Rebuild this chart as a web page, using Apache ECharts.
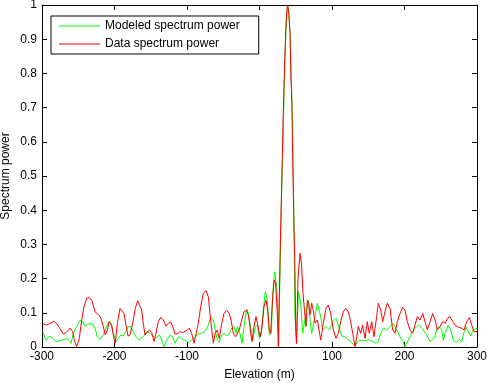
<!DOCTYPE html>
<html>
<head>
<meta charset="utf-8">
<script src="https://cdn.jsdelivr.net/npm/echarts@6/dist/echarts.min.js"></script>
<style>
  html, body { margin: 0; padding: 0; background: #fff; }
  #container { width: 487px; height: 383px; }
</style>
</head>
<body>
<div id="container"></div>
<script>
// elevation (m) and normalised power
var dataElev = [-299, -293.5, -289, -283.4, -279, -274.2, -270.6, -266.9, -261.4, -257.7, -255.5, -252.1, -248.6, -245.2, -242.1, -238.4, -234.8, -231, -226.9, -222.3, -218.6, -215.5, -212.7, -209.9, -207.2, -203.9, -200.7, -198.9, -196.1, -192.4, -189.7, -186.9, -184.1, -181.4, -178.6, -174.9, -171.3, -168, -165.8, -162.5, -160.3, -157.9, -155.6, -152, -148.7, -145.5, -142.8, -139.6, -136.3, -132.7, -129, -125.8, -122.5, -119.7, -116.6, -113.4, -109.7, -106, -101.4, -96.8, -93.5, -90.3, -87.6, -84.4, -81.1, -77.5, -73.8, -70.6, -68.3, -65.9, -63.7, -61, -58.2, -55.5, -52.1, -49, -45.2, -41.6, -38.9, -36.1, -33.1, -30.4, -27.9, -24.6, -21.4, -17.7, -14.9, -12.1, -10.3, -7.6, -4.8, -2, 0.7, 3, 6.2, 9, 11.3, 13.5, 15.4, 18.2, 20.4, 22.3, 24.6, 26, 28.3, 30.1, 31.4, 32.8, 34.8, 36.1, 37.5, 38.9, 40.3, 42.1, 43.4, 44.8, 45.8, 47.2, 48.6, 50, 51, 53.1, 55.9, 58, 59.9, 62.8, 64.2, 66, 67.9, 69.7, 72, 74.2, 76.6, 79.8, 81.1, 84.4, 88, 91.7, 94.9, 98.2, 101.8, 105.5, 108.7, 112, 115.6, 118.9, 122.5, 125.8, 128.6, 131.7, 134.1, 136.3, 139.6, 142.3, 145.5, 148.7, 151.4, 154.8, 157.9, 161.6, 163.9, 167.2, 169.9, 173.1, 176.3, 180, 183.7, 186.9, 190.1, 193.8, 197.5, 200.7, 203.9, 207.6, 211.3, 214.5, 217.7, 221.4, 225.1, 228.3, 231.5, 235.2, 238.9, 242.1, 245.3, 249, 252.7, 256.3, 259.1, 262.8, 266.5, 269.7, 274.2, 278.9, 282.1, 285.8, 289.4, 292.7, 295.9, 300];
var dataPower = [0.069, 0.064, 0.069, 0.075, 0.067, 0.05, 0.038, 0.042, 0.055, 0.045, 0.02, 0.001, 0.025, 0.079, 0.118, 0.142, 0.145, 0.135, 0.103, 0.095, 0.084, 0.06, 0.035, 0.05, 0.074, 0.064, 0.025, 0.011, 0.069, 0.113, 0.116, 0.098, 0.064, 0.032, 0.035, 0.069, 0.113, 0.135, 0.137, 0.108, 0.069, 0.035, 0.04, 0.05, 0.042, 0.016, 0.04, 0.074, 0.087, 0.079, 0.061, 0.069, 0.074, 0.06, 0.038, 0.038, 0.045, 0.042, 0.047, 0.055, 0.04, 0.011, 0.016, 0.069, 0.118, 0.157, 0.165, 0.147, 0.098, 0.05, 0.011, 0.04, 0.05, 0.025, 0.069, 0.098, 0.108, 0.098, 0.075, 0.04, 0.03, 0.03, 0.05, 0.079, 0.103, 0.108, 0.089, 0.04, 0.016, 0.06, 0.089, 0.06, 0.03, 0.05, 0.118, 0.137, 0.108, 0.05, 0.04, 0.147, 0.196, 0.186, 0.098, 0.001, 0.26, 0.43, 0.547, 0.68, 0.84, 0.918, 0.98, 1.0, 0.98, 0.92, 0.79, 0.70, 0.547, 0.38, 0.26, 0.05, 0.01, 0.2, 0.274, 0.24, 0.16, 0.09, 0.06, 0.137, 0.128, 0.095, 0.128, 0.108, 0.07, 0.079, 0.074, 0.02, 0.069, 0.113, 0.123, 0.098, 0.05, 0.025, 0.04, 0.074, 0.103, 0.113, 0.103, 0.074, 0.04, 0.001, 0.03, 0.06, 0.04, 0.064, 0.025, 0.074, 0.04, 0.074, 0.03, 0.089, 0.128, 0.108, 0.074, 0.103, 0.128, 0.113, 0.05, 0.04, 0.074, 0.098, 0.116, 0.108, 0.074, 0.05, 0.04, 0.064, 0.089, 0.079, 0.098, 0.074, 0.05, 0.074, 0.098, 0.079, 0.05, 0.06, 0.074, 0.069, 0.084, 0.089, 0.074, 0.064, 0.058, 0.055, 0.05, 0.074, 0.086, 0.064, 0.045, 0.045];

var modelElev = [-299, -294.5, -289.9, -285.2, -280.7, -276.1, -271.5, -266, -262.3, -260, -256.8, -252.1, -247.6, -243.9, -240.7, -236.1, -231.4, -226.9, -223.7, -220, -215.5, -210.8, -208, -205.2, -201.6, -197.9, -194.8, -191.4, -187.9, -184.1, -181, -177.7, -174.1, -170.3, -165.8, -160.3, -155.6, -151, -146.5, -141.8, -138.2, -134.9, -131.7, -128, -123.4, -119.7, -116.6, -112, -107.3, -102.8, -98.2, -93.5, -89, -84.4, -79.7, -75.1, -70.6, -67.3, -63.7, -61, -58.2, -55.5, -52.1, -49, -45.2, -41.6, -38.3, -35.2, -32.5, -30.4, -27, -24.1, -21.4, -17.7, -15.5, -13.1, -9.4, -5.8, -3, -0.3, 2.1, 5.3, 8, 10.8, 13.5, 16.3, 18.2, 20.9, 23.7, 25.1, 26.3, 28.6, 30.4, 31.8, 33.2, 35, 36.4, 37.8, 38.9, 40.5, 42.3, 43.8, 45.2, 46.2, 47.6, 48.9, 51.3, 53.6, 55, 56.9, 59.6, 61.4, 64.2, 67.4, 69.7, 72, 74.2, 76.6, 79.8, 81.1, 84.4, 87.2, 91.7, 96.3, 100.9, 105.5, 108.7, 113.4, 117.9, 122.5, 127.2, 131.7, 136.3, 140.9, 145.5, 150.1, 154.8, 159.3, 163.9, 167.2, 170.8, 175.5, 180, 184.6, 189.3, 193.8, 197.5, 200.7, 205.2, 209.9, 214.5, 219.1, 222.4, 225.9, 230.6, 235.2, 237.5, 240.7, 244.4, 248, 251.3, 253.5, 255.9, 260.4, 263.7, 267.3, 271, 275.6, 278.9, 282.1, 284.9, 288, 291.3, 294.9, 300];
var modelPower = [0.045, 0.02, 0.032, 0.025, 0.016, 0.018, 0.02, 0.025, 0.02, 0.011, 0.04, 0.06, 0.077, 0.074, 0.06, 0.067, 0.069, 0.055, 0.03, 0.022, 0.035, 0.06, 0.074, 0.071, 0.04, 0.016, 0.025, 0.035, 0.032, 0.045, 0.06, 0.06, 0.045, 0.03, 0.02, 0.03, 0.045, 0.04, 0.03, 0.028, 0.035, 0.02, 0.001, 0.02, 0.035, 0.03, 0.011, 0.03, 0.025, 0.02, 0.013, 0.02, 0.03, 0.038, 0.04, 0.045, 0.064, 0.089, 0.079, 0.05, 0.02, 0.013, 0.035, 0.04, 0.032, 0.04, 0.055, 0.06, 0.04, 0.06, 0.04, 0.011, 0.06, 0.11, 0.1, 0.069, 0.02, 0.06, 0.064, 0.025, 0.035, 0.108, 0.162, 0.137, 0.035, 0.04, 0.157, 0.22, 0.176, 0.108, 0.02, 0.24, 0.44, 0.55, 0.68, 0.84, 0.92, 0.98, 0.995, 0.97, 0.91, 0.78, 0.69, 0.54, 0.37, 0.089, 0.011, 0.162, 0.167, 0.128, 0.04, 0.035, 0.098, 0.137, 0.079, 0.04, 0.04, 0.089, 0.128, 0.132, 0.089, 0.05, 0.06, 0.05, 0.074, 0.084, 0.064, 0.032, 0.03, 0.02, 0.013, 0.003, 0.018, 0.02, 0.018, 0.022, 0.018, 0.011, 0.016, 0.04, 0.055, 0.05, 0.06, 0.069, 0.05, 0.03, 0.016, 0.001, 0.02, 0.04, 0.055, 0.064, 0.061, 0.05, 0.035, 0.016, 0.011, 0.025, 0.05, 0.06, 0.05, 0.02, 0.04, 0.064, 0.05, 0.02, 0.013, 0.022, 0.016, 0.042, 0.058, 0.045, 0.032, 0.05, 0.055];

function pairs(xs, ys) {
  return xs.map(function(x, i) { return [x, ys[i]]; });
}

var dom = document.getElementById('container');
var myChart = echarts.init(dom);
var font = 'Liberation Sans, Arial, sans-serif';

// hidden top/right axes only give the inward ticks of the matlab box
var boxAxis = {
  axisLine: { show: true, onZero: false, lineStyle: { color: '#000', width: 1 } },
  axisTick: { show: true, inside: true, length: 5, lineStyle: { color: '#000' } },
  axisLabel: { show: false },
  splitLine: { show: false }
};

var option = {
  animation: false,
  backgroundColor: '#fff',
  textStyle: { fontFamily: font },
  grid: { left: 42, right: 10, top: 5, bottom: 36, outerBoundsMode: 'none', containLabel: false },
  legend: {
    left: 51,
    top: 16,
    orient: 'vertical',
    backgroundColor: '#fff',
    borderColor: '#000',
    borderWidth: 1,
    borderRadius: 0,
    padding: [4, 19, 4, 8],
    icon: 'path://M0,0L41,0L41,1L0,1Z',
    itemWidth: 41,
    itemHeight: 14,
    itemGap: 6,
    textStyle: { fontFamily: font, fontSize: 12, color: '#000' },
    data: ['Modeled spectrum power', 'Data spectrum power']
  },
  xAxis: [
    Object.assign({}, boxAxis, {
      type: 'value', min: -300, max: 300, interval: 100,
      position: 'bottom',
      name: 'Elevation (m)', nameLocation: 'middle', nameGap: 22,
      nameTextStyle: { fontFamily: font, fontSize: 12, color: '#000' },
      axisLabel: { show: true, color: '#000', fontSize: 12, fontFamily: font, margin: 4 }
    }),
    Object.assign({}, boxAxis, { type: 'value', min: -300, max: 300, interval: 100, position: 'top' })
  ],
  yAxis: [
    Object.assign({}, boxAxis, {
      type: 'value', min: 0, max: 1, interval: 0.1,
      position: 'left',
      name: 'Spectrum power', nameLocation: 'middle', nameGap: 30, nameMoveOverlap: false,
      nameTextStyle: { fontFamily: font, fontSize: 12, color: '#000' },
      axisLabel: { show: true, color: '#000', fontSize: 12, fontFamily: font, margin: 5 }
    }),
    Object.assign({}, boxAxis, { type: 'value', min: 0, max: 1, interval: 0.1, position: 'right' })
  ],
  series: [
    {
      name: 'Modeled spectrum power',
      type: 'line',
      symbol: 'none',
      color: '#00ff00',
      lineStyle: { width: 1, color: '#00ff00' },
      data: pairs(modelElev, modelPower)
    },
    {
      name: 'Data spectrum power',
      type: 'line',
      symbol: 'none',
      color: '#ff0000',
      lineStyle: { width: 1, color: '#ff0000' },
      data: pairs(dataElev, dataPower)
    }
  ]
};

myChart.setOption(option);
</script>
</body>
</html>
